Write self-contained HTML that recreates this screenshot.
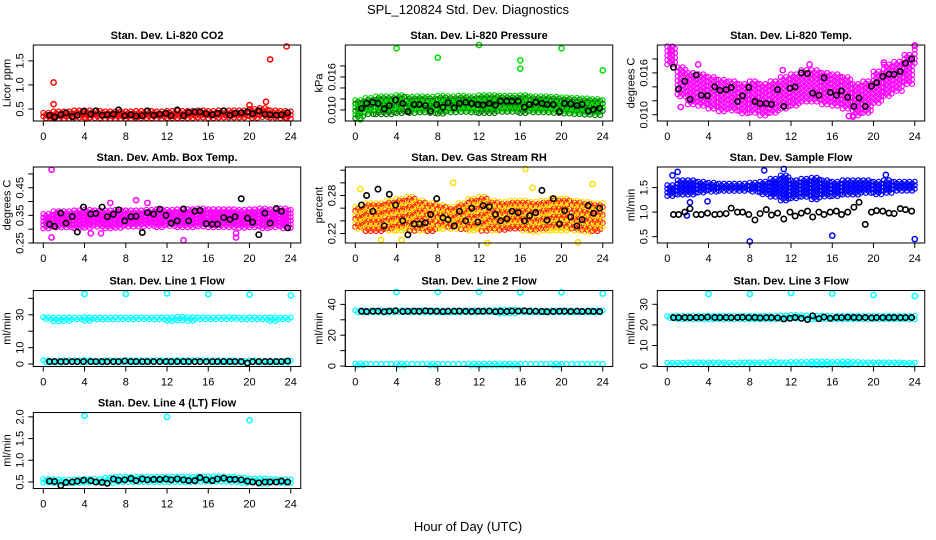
<!DOCTYPE html>
<html><head><meta charset="utf-8">
<style>
html,body{margin:0;padding:0;background:#fff;}
svg{display:block;font-family:"Liberation Sans",sans-serif;}
</style></head>
<body>
<svg id="chart" width="936" height="540" viewBox="0 0 936 540" xmlns="http://www.w3.org/2000/svg">
<rect x="0" y="0" width="936" height="540" fill="#fff"/>
<text x="468" y="14" text-anchor="middle" font-size="13">SPL_120824  Std. Dev. Diagnostics</text>
<text x="468" y="531" text-anchor="middle" font-size="13">Hour of Day (UTC)</text>
</svg>
<script>
// ---- shared data ----
const xTicks = [0,4,8,12,16,20,24];
const blackHours = [0.6,1.1,1.7,2.2,2.8,3.3,3.9,4.6,5.1,5.7,6.2,6.8,7.3,7.9,8.5,9.0,9.6,10.1,10.7,11.3,11.9,12.4,13.0,13.6,14.1,14.7,15.2,15.8,16.4,16.9,17.5,18.1,18.6,19.2,19.8,20.3,20.9,21.5,22.0,22.6,23.1,23.7];

// P1 CO2
const co2Lo = [.30,.30,.30,.30,.30,.30,.30,.30,.30,.30,.30,.30,.30,.30,.30,.30,.30,.30,.30,.30,.30,.30,.30,.30,.30];
const co2Hi = [.42,.45,.45,.47,.47,.46,.45,.45,.45,.46,.46,.45,.46,.46,.46,.47,.46,.47,.47,.47,.50,.52,.47,.46,.45];
const co2Black = [.37,.33,.38,.42,.34,.37,.45,.39,.46,.37,.38,.39,.48,.36,.38,.35,.36,.46,.37,.39,.41,.36,.48,.36,.43,.44,.44,.40,.38,.41,.46,.37,.41,.42,.44,.40,.46,.39,.38,.37,.38,.42];
const co2OutX = [1.0,1.0,20.0,21.6,22.0,23.6,4.1,23.6];
const co2OutY = [1.05,.60,.58,.65,1.53,1.80,.30,.32];

// P2 Pressure
const prLo = [.0085,.0090,.0092,.0092,.0093,.0092,.0093,.0092,.0091,.0093,.0094,.0093,.0093,.0093,.0094,.0094,.0093,.0094,.0093,.0093,.0092,.0092,.0091,.0090,.0092];
const prHi = [.0118,.0122,.0125,.0125,.0127,.0124,.0125,.0124,.0126,.0125,.0126,.0125,.0127,.0127,.0126,.0126,.0127,.0125,.0125,.0124,.0123,.0122,.0121,.0120,.0118];
const prBlack = [.0103,.0112,.0114,.0112,.0102,.0108,.0118,.0112,.0097,.0110,.0110,.0108,.0098,.0110,.0105,.0113,.0104,.0112,.0114,.0112,.0110,.0109,.0112,.0109,.0116,.0116,.0116,.0116,.0105,.0110,.0114,.0112,.0110,.0110,.0097,.0112,.0111,.0108,.0110,.0098,.0101,.0103];
const prOutX = [4.0,8.0,12.0,16.0,16.0,20.0,24.0,0.5];
const prOutY = [.0212,.0195,.0218,.0190,.0175,.0212,.0172,.0083];

// P3 Li-820 Temp
const ltLo = [.0172,.0125,.0112,.0112,.0106,.0104,.0104,.0100,.0102,.0098,.0102,.0106,.0112,.0116,.0116,.0112,.0110,.0106,.0098,.0100,.0114,.0126,.0134,.0142,.0172];
const ltHi = [.0198,.0168,.0160,.0158,.0154,.0150,.0148,.0144,.0148,.0144,.0148,.0154,.0158,.0164,.0164,.0160,.0158,.0154,.0144,.0148,.0162,.0172,.0176,.0186,.0200];
const ltBlack = [.0168,.0137,.0148,.0122,.0157,.0128,.0127,.0140,.0135,.0136,.0139,.0119,.0127,.0139,.0119,.0116,.0116,.0115,.0136,.0112,.0138,.0140,.0160,.0159,.0131,.0128,.0153,.0132,.0128,.0134,.0125,.0112,.0124,.0112,.0141,.0146,.0155,.0158,.0158,.0162,.0174,.0180];
const ltOutX = [0.4,1.3,3.0,11.2,13.8,17.6,18.0,21.0,24.0];
const ltOutY = [.0192,.0111,.0172,.0164,.0172,.0098,.0097,.0175,.0199];

// P4 Amb Box Temp
const abLo = [.300,.300,.302,.300,.302,.305,.302,.303,.305,.305,.305,.303,.305,.305,.305,.305,.303,.305,.305,.303,.305,.302,.303,.302,.300];
const abHi = [.355,.365,.365,.368,.370,.368,.368,.370,.368,.368,.370,.372,.370,.372,.372,.375,.372,.372,.372,.370,.372,.375,.372,.375,.370];
const abBlack = [.318,.310,.358,.322,.346,.290,.380,.355,.357,.380,.345,.354,.370,.330,.345,.347,.288,.360,.355,.372,.350,.322,.330,.373,.330,.365,.368,.320,.318,.318,.342,.335,.345,.410,.340,.325,.280,.358,.322,.375,.365,.305];
const abOutX = [0.8,0.8,13.6,18.7,18.7,9.0,10.1,4.6,5.6,6.5];
const abOutY = [.515,.270,.260,.270,.285,.405,.395,.285,.285,.395];

// P5 Gas Stream RH
const rhLo = [.225,.222,.222,.223,.222,.224,.222,.222,.224,.225,.224,.222,.222,.224,.225,.225,.222,.222,.223,.224,.222,.222,.222,.223,.225];
const rhHi = [.262,.268,.268,.272,.275,.278,.272,.268,.265,.262,.268,.275,.278,.272,.270,.272,.272,.270,.272,.275,.275,.272,.270,.268,.268];
const rhBlack = [.265,.280,.255,.290,.232,.282,.265,.240,.218,.235,.235,.237,.250,.275,.245,.242,.232,.255,.240,.260,.238,.264,.262,.250,.240,.243,.255,.253,.240,.248,.253,.288,.241,.275,.235,.256,.246,.232,.242,.264,.252,.260];
const rhOutX = [0.5,16.5,12.8,21.6,9.5,23.0,2.5,17.2,4.5];
const rhOutY = [.290,.322,.205,.206,.300,.298,.210,.292,.210];

// P6 Sample Flow
const sfLo = [1.30,1.32,1.35,1.38,1.40,1.40,1.42,1.40,1.38,1.35,1.30,1.20,1.25,1.30,1.25,1.30,1.32,1.35,1.35,1.38,1.35,1.38,1.40,1.42,1.45];
const sfHi = [1.55,1.65,1.65,1.62,1.60,1.58,1.58,1.58,1.60,1.62,1.68,1.75,1.65,1.68,1.70,1.65,1.62,1.65,1.65,1.65,1.62,1.65,1.62,1.62,1.62];
const sfBlack = [.95,.95,1.00,1.07,.95,.95,.98,.95,.96,.97,1.08,1.00,1.00,.95,.84,.97,1.05,.94,.98,.86,1.00,.92,.98,1.02,.90,1.00,.95,1.00,1.02,.95,1.00,1.10,1.20,.75,1.00,1.03,1.02,.98,.97,1.07,1.05,1.02];
const sfOutX = [8.0,16.0,24.0,1.9,9.4,11.3,0.5,1.0,2.2,3.9,21.2];
const sfOutY = [.40,.52,.45,.93,1.85,1.88,1.75,1.82,1.20,1.22,1.76];

// P7 Line 1 Flow
const l1Lo = [26.5,26.0,26.2,26.2,26.3,26.2,26.3,26.4,26.2,26.3,26.3,26.4,26.0,26.3,26.2,26.3,26.4,26.3,26.4,26.3,26.3,26.4,26.2,26.3,26.2];
const l1Hi = [28.5,28.2,28.4,28.3,28.5,28.2,28.3,28.4,28.3,28.4,28.3,28.4,28.4,28.8,28.5,28.4,28.3,28.4,28.5,28.3,28.4,28.3,28.4,28.3,28.3];
const l1Lo2 = [0.8,0.8,0.8,0.8,0.8,0.8,0.8,0.8,0.8,0.8,0.8,0.8,0.8,0.8,0.8,0.8,0.8,0.8,0.8,0.8,0.8,0.8,0.8,0.8,0.8];
const l1Hi2 = [2.2,2.0,2.2,2.2,2.4,2.0,2.2,2.2,2.4,2.2,2.2,2.4,2.2,2.4,2.4,2.4,2.2,2.2,2.2,2.0,2.2,2.0,2.0,2.0,2.0];
const l1Black = [1.5,1.5,1.5,1.5,1.5,1.5,1.5,1.5,1.5,1.5,1.5,1.5,1.5,1.8,1.5,1.5,1.5,1.5,1.5,1.5,1.5,1.5,1.5,1.5,1.5,1.5,1.5,1.5,1.5,1.5,1.5,1.5,1.5,1.5,0.6,1.5,1.5,1.5,1.5,1.5,1.5,1.8];
const l1OutX = [4,8,12,16,20,24];
const l1OutY = [42.7,42.7,43.0,42.6,42.3,41.8];

// P8 Line 2 Flow
const l2Lo = [34.2,34.0,34.0,34.0,34.0,34.0,34.0,34.0,34.0,34.0,34.0,34.0,34.0,34.0,33.5,34.0,34.0,34.0,34.0,34.0,34.0,34.0,34.0,34.0,34.0];
const l2Hi = [36.0,36.0,36.0,36.0,36.2,36.0,36.0,36.0,36.0,36.0,36.0,36.0,36.2,36.2,36.5,36.5,36.0,36.0,36.0,36.0,36.0,36.0,36.0,36.0,36.0];
const l2Lo2 = [0.3,0.3,0.3,0.3,0.3,0.3,0.3,0.3,0.3,0.3,0.3,0.3,0.3,0.3,0.3,0.3,0.3,0.3,0.3,0.3,0.3,0.3,0.3,0.3,0.3];
const l2Hi2 = [1.6,1.4,1.4,1.4,1.5,1.4,1.4,1.5,1.4,1.4,1.4,1.5,1.5,1.5,1.5,1.5,1.4,1.4,1.4,1.5,1.4,1.4,1.4,1.4,1.4];
const l2Black = [35.5,35.3,35.5,35.6,35.2,35.6,35.8,35.4,35.5,35.6,35.5,35.8,35.6,35.5,35.3,35.5,35.5,35.6,35.5,35.4,35.5,35.5,35.6,35.3,35.5,35.4,35.7,35.6,35.8,35.5,35.5,35.4,35.2,35.4,35.5,35.5,35.4,35.5,35.4,35.5,35.4,35.4];
const l2OutX = [4,8,12,16,20,24];
const l2OutY = [48.0,48.0,48.2,47.8,47.8,47.0];

// P9 Line 3 Flow
const l3Lo = [22.5,22.5,22.6,22.6,22.6,22.6,22.6,22.5,22.5,22.5,22.6,22.5,22.4,22.5,22.5,22.6,22.5,22.5,22.5,22.5,22.5,22.5,22.5,22.5,22.5];
const l3Hi = [24.2,24.4,24.4,24.4,24.4,24.4,24.4,24.4,24.4,24.4,24.4,24.6,24.8,24.6,24.5,24.5,24.4,24.4,24.4,24.4,24.4,24.4,24.4,24.4,24.4];
const l3Lo2 = [0.3,0.3,0.3,0.3,0.3,0.3,0.3,0.3,0.3,0.3,0.3,0.3,0.3,0.3,0.3,0.3,0.3,0.3,0.3,0.3,0.3,0.3,0.3,0.3,0.3];
const l3Hi2 = [1.6,1.6,1.8,1.8,1.8,1.8,1.6,1.8,1.8,1.8,2.0,1.8,2.0,2.0,2.2,2.2,2.0,2.2,2.0,1.8,1.8,1.8,1.8,1.6,1.6];
const l3Black = [23.5,23.5,23.6,23.5,23.6,23.6,23.8,23.6,23.5,23.6,23.5,23.6,23.7,23.5,23.6,23.4,23.5,23.5,23.4,22.9,23.2,23.6,23.2,22.6,24.4,23.0,23.8,23.2,23.6,23.5,23.7,23.6,23.5,23.6,23.4,23.5,23.5,23.5,23.6,23.5,23.5,23.6];
const l3OutX = [4,8,12,16,20,24];
const l3OutY = [35.0,35.0,35.5,35.2,34.5,34.0];

// P10 Line 4 Flow
const l4Lo = [.45,.45,.45,.45,.46,.45,.46,.47,.47,.48,.48,.48,.48,.48,.47,.48,.48,.48,.47,.47,.46,.45,.45,.45,.45];
const l4Hi = [.57,.56,.55,.56,.57,.57,.60,.62,.62,.62,.62,.62,.62,.62,.62,.63,.63,.63,.62,.60,.58,.58,.57,.56,.56];
const l4Black = [.52,.51,.42,.49,.50,.52,.54,.53,.50,.49,.47,.57,.54,.55,.58,.53,.57,.55,.56,.56,.57,.55,.57,.55,.53,.53,.60,.55,.53,.57,.59,.56,.56,.55,.52,.50,.48,.50,.50,.50,.52,.50];
const l4OutX = [4,12,20];
const l4OutY = [2.03,2.00,1.92];

// ---- layout ----
const NS = 'http://www.w3.org/2000/svg';
const svg = document.getElementById('chart');
const colX0 = [43.3, 355.3, 667.3];
const hourPx = 10.31;
const rowTop = [45, 167, 290.5, 412.5];
const boxH = 76;

function mk(tag, attrs, parent) {
  const e = document.createElementNS(NS, tag);
  for (const k in attrs) e.setAttribute(k, attrs[k]);
  (parent || svg).appendChild(e);
  return e;
}

function drawPanel(p) {
  const g = mk('g', {});
  
  
  const x0 = colX0[p.col], top = rowTop[p.row], bot = top + boxH;
  const left = x0 - 10, right = x0 + 24 * hourPx + 10;
  const xs = h => x0 + h * hourPx;
  const ys = v => bot - (v - p.ylim[0]) / (p.ylim[1] - p.ylim[0]) * boxH;

  const clip = mk('clipPath', { id: 'clip-' + p.name }, g);
  mk('rect', { x: left - 4, y: top - 4, width: right - left + 8, height: boxH + 8 }, clip);
  const pts = mk('g', { 'clip-path': 'url(#clip-' + p.name + ')' }, g);

  const bandGroup = mk('g', {}, pts);
  
  
  const step = p.step || 3.6;
  p.bands.forEach(b => {
    for (let h = 0; h <= 24; h++) {
      const cols = h < 24 ? [0, 0.25, 0.5, 0.75] : [0];
      cols.forEach((dx, ci) => {
        const yA = ys(b.hi[h]), yB = ys(b.lo[h]);
        const off = (ci % 2) * step / 2;
        let k = 0;
        for (let y = yA + off; y <= yB + 0.01; y += step) {
          const col = (p.color2 && ((ci + k) % 2 === 1)) ? p.color2 : p.color;
          k++;
          const c = mk('circle', { cx: xs(h + dx), cy: y, r: 2.4, fill: 'none', stroke: col, 'stroke-width': 1.2 }, bandGroup);
          
          
        }
      });
    }
  });
  p.outX.forEach((x, i) => {
    const c = mk('circle', { cx: xs(x), cy: ys(p.outY[i]), r: 2.6, fill: 'none', stroke: p.color, 'stroke-width': 1.5 }, pts);
    
    
  });
  blackHours.forEach((x, i) => {
    const c = mk('circle', { cx: xs(x), cy: ys(p.black[i]), r: 2.7, fill: 'none', stroke: '#000', 'stroke-width': 1.6 }, pts);
    
    
  });

  const box = mk('rect', { x: left, y: top, width: right - left, height: boxH, fill: 'none', stroke: '#000', 'stroke-width': 1 }, g);
  
  

  const xa = mk('g', {}, g);
  
  
  mk('line', { x1: xs(0), x2: xs(24), y1: bot, y2: bot, stroke: '#000' }, xa);
  xTicks.forEach(t => {
    mk('line', { x1: xs(t), x2: xs(t), y1: bot, y2: bot + 5, stroke: '#000' }, xa);
    const tx = mk('text', { x: xs(t), y: bot + 19, 'text-anchor': 'middle', 'font-size': 11 }, xa);
    tx.textContent = t;
    
    
  });

  const ya = mk('g', {}, g);
  
  
  const yT = p.yTicks;
  mk('line', { x1: left, x2: left, y1: ys(yT[0]), y2: ys(yT[yT.length - 1]), stroke: '#000' }, ya);
  yT.forEach(t => {
    mk('line', { x1: left - 5, x2: left, y1: ys(t), y2: ys(t), stroke: '#000' }, ya);
  });
  p.yLabels.forEach(lab => {
    const yy = ys(parseFloat(lab)), xx = left - 10;
    const tx = mk('text', { x: xx, y: yy, 'text-anchor': 'middle', 'font-size': 11, transform: 'rotate(-90 ' + xx + ' ' + yy + ')' }, ya);
    tx.textContent = lab;
    
    
  });
  const yt = mk('text', { x: left - 23, y: top + boxH / 2, 'text-anchor': 'middle', 'font-size': 11, transform: 'rotate(-90 ' + (left - 23) + ' ' + (top + boxH / 2) + ')' }, g);
  yt.textContent = p.ytitle;
  
  

  const tt = mk('text', { x: (left + right) / 2, y: top - 6, 'text-anchor': 'middle', 'font-size': 11, 'font-weight': 'bold' }, g);
  tt.textContent = p.title;
  
  
}

const panels = [
  { name: 'co2', col: 0, row: 0, title: 'Stan. Dev. Li-820 CO2', ytitle: 'Licor ppm', ylim: [0.25, 1.83], yTicks: [0.5, 1.0, 1.5], yLabels: ['0.5', '1.0', '1.5'], color: '#ff0000', bands: [{ lo: co2Lo, hi: co2Hi }], black: co2Black, outX: co2OutX, outY: co2OutY },
  { name: 'pressure', col: 1, row: 0, title: 'Stan. Dev. Li-820 Pressure', ytitle: 'kPa', ylim: [0.0080, 0.0218], yTicks: [0.010, 0.012, 0.014, 0.016, 0.018], yLabels: ['0.010', '0.016'], color: '#00e000', color2: '#007700', bands: [{ lo: prLo, hi: prHi }], black: prBlack, outX: prOutX, outY: prOutY },
  { name: 'li820-temp', col: 2, row: 0, title: 'Stan. Dev. Li-820 Temp.', ytitle: 'degrees C', ylim: [0.0091, 0.0200], yTicks: [0.010, 0.012, 0.014, 0.016, 0.018], yLabels: ['0.010', '0.016'], color: '#ff00ff', step: 4.5, bands: [{ lo: ltLo, hi: ltHi }], black: ltBlack, outX: ltOutX, outY: ltOutY },
  { name: 'amb-box-temp', col: 0, row: 1, title: 'Stan. Dev. Amb. Box Temp.', ytitle: 'degrees C', ylim: [0.25, 0.525], yTicks: [0.25, 0.30, 0.35, 0.40, 0.45, 0.50], yLabels: ['0.25', '0.35', '0.45'], color: '#ff00ff', bands: [{ lo: abLo, hi: abHi }], black: abBlack, outX: abOutX, outY: abOutY },
  { name: 'gas-stream-rh', col: 1, row: 1, title: 'Stan. Dev. Gas Stream RH', ytitle: 'percent', ylim: [0.205, 0.325], yTicks: [0.22, 0.24, 0.26, 0.28, 0.30, 0.32], yLabels: ['0.22', '0.28'], color: '#ffdd00', color2: '#ff2000', step: 4, bands: [{ lo: rhLo, hi: rhHi }], black: rhBlack, outX: rhOutX, outY: rhOutY },
  { name: 'sample-flow', col: 2, row: 1, title: 'Stan. Dev. Sample Flow', ytitle: 'ml/min', ylim: [0.37, 1.92], yTicks: [0.5, 1.0, 1.5], yLabels: ['0.5', '1.0', '1.5'], color: '#0000ff', bands: [{ lo: sfLo, hi: sfHi }], black: sfBlack, outX: sfOutX, outY: sfOutY },
  { name: 'line1-flow', col: 0, row: 2, title: 'Stan. Dev. Line 1 Flow', ytitle: 'ml/min', ylim: [-1.5, 44.8], yTicks: [0, 10, 20, 30, 40], yLabels: ['0', '10', '30'], color: '#00ffff', bands: [{ lo: l1Lo, hi: l1Hi }, { lo: l1Lo2, hi: l1Hi2 }], black: l1Black, outX: l1OutX, outY: l1OutY },
  { name: 'line2-flow', col: 1, row: 2, title: 'Stan. Dev. Line 2 Flow', ytitle: 'ml/min', ylim: [-0.3, 49.0], yTicks: [0, 10, 20, 30, 40], yLabels: ['0', '20', '40'], color: '#00ffff', bands: [{ lo: l2Lo, hi: l2Hi }, { lo: l2Lo2, hi: l2Hi2 }], black: l2Black, outX: l2OutX, outY: l2OutY },
  { name: 'line3-flow', col: 2, row: 2, title: 'Stan. Dev. Line 3 Flow', ytitle: 'ml/min', ylim: [-0.2, 36.7], yTicks: [0, 10, 20, 30], yLabels: ['0', '10', '20', '30'], color: '#00ffff', bands: [{ lo: l3Lo, hi: l3Hi }, { lo: l3Lo2, hi: l3Hi2 }], black: l3Black, outX: l3OutX, outY: l3OutY },
  { name: 'line4-flow', col: 0, row: 3, title: 'Stan. Dev. Line 4 (LT) Flow', ytitle: 'ml/min', ylim: [0.35, 2.10], yTicks: [0.5, 1.0, 1.5, 2.0], yLabels: ['0.5', '1.0', '1.5', '2.0'], color: '#00ffff', bands: [{ lo: l4Lo, hi: l4Hi }], black: l4Black, outX: l4OutX, outY: l4OutY }
];
panels.forEach(drawPanel);
</script>
</body></html>
